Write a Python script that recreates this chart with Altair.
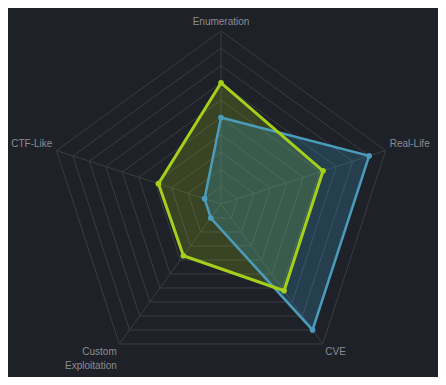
import altair as alt
import pandas as pd

# ---- data ----
axes = ["Enumeration", "Real-Life", "CVE", "Custom Exploitation", "CTF-Like"]
series_names = ["Green", "Blue"]
series_green = [70, 62, 62, 37, 38]
series_blue = [50, 90, 90, 10, 10]
grid_levels = [10, 20, 30, 40, 50, 60, 70, 80, 90, 100]
max_value = 100

BG = "#1f2128"
GRID = "#393c43"
LABEL = "#8a8d92"
GREEN = "#a4cf1b"
GREEN_FILL = "#a6d019"
BLUE = "#4a9cba"
BLUE_FILL = "#3dadd7"

# ---- tables ----
rows = []
for name, vals in zip(series_names, [series_green, series_blue]):
    for i, (a, v) in enumerate(zip(axes, vals)):
        rows.append({"series": name, "axis": a, "idx": i, "value": v})
series_df = pd.DataFrame(rows)

grid_df = pd.DataFrame(
    [{"level": lv, "idx": i} for lv in grid_levels for i in range(len(axes))]
)
axis_df = pd.DataFrame({"axis": axes, "idx": list(range(len(axes)))})

n = len(axes)
ang = f"datum.idx * 2 * PI / {n}"

xs = alt.Scale(domain=[-123.1, 125.4], nice=False, zero=False)
ys = alt.Scale(domain=[-100.0, 113.3], nice=False, zero=False)


def xy(chart, r):
    return chart.transform_calculate(
        ang=ang
    ).transform_calculate(
        x=f"{r} * sin(datum.ang)", y=f"{r} * cos(datum.ang)"
    )


X = alt.X("x:Q", scale=xs, axis=None)
Y = alt.Y("y:Q", scale=ys, axis=None)

grid = xy(alt.Chart(grid_df), "datum.level").mark_line(
    interpolate="linear-closed", stroke=GRID, strokeWidth=1
).encode(x=X, y=Y, detail="level:N", order="idx:Q")

spokes = xy(alt.Chart(axis_df), max_value).mark_rule(
    stroke=GRID, strokeWidth=1
).encode(
    x=alt.X("cx:Q", scale=xs, axis=None),
    y=alt.Y("cy:Q", scale=ys, axis=None),
    x2="x:Q",
    y2="y:Q",
).transform_calculate(cx="0", cy="0")


def poly(name, color, fill_color, width, fill_op):
    base = xy(alt.Chart(series_df), "datum.value").transform_filter(
        f"datum.series == '{name}'"
    )
    fill = base.mark_line(
        interpolate="linear-closed", fill=fill_color, fillOpacity=fill_op,
        strokeOpacity=0, stroke=color
    ).encode(x=X, y=Y, order="idx:Q")
    line = base.mark_line(
        interpolate="linear-closed", stroke=color, strokeWidth=width
    ).encode(x=X, y=Y, order="idx:Q")
    pts = base.mark_circle(size=32, color=color, opacity=1).encode(x=X, y=Y)
    return fill, line, pts


gf, gl, gp = poly("Green", GREEN, GREEN_FILL, 3, 0.2)
bf, bl, bp = poly("Blue", BLUE, BLUE_FILL, 2.5, 0.22)

label_base = xy(alt.Chart(axis_df), 102.5).transform_calculate(
    s="sin(datum.ang)", c="cos(datum.ang)"
)
label_layers = []
for cond, align, baseline in [
    ("abs(datum.s) < 0.1", "center", "bottom"),
    ("datum.s >= 0.1 && datum.c > 0", "left", "bottom"),
    ("datum.s >= 0.1 && datum.c <= 0", "left", "top"),
    ("datum.s <= -0.1 && datum.c <= 0", "right", "top"),
    ("datum.s <= -0.1 && datum.c > 0", "right", "bottom"),
]:
    label_layers.append(
        label_base.transform_filter(cond).mark_text(
            align=align, baseline=baseline, font="Liberation Sans",
            fontSize=10, color=LABEL, lineBreak=" ", lineHeight=14
        ).encode(x=X, y=Y, text="axis:N")
    )

chart = alt.layer(
    grid, spokes, gf, bf, bl, gl, bp, gp, *label_layers
).properties(
    width=430, height=369, padding=0, background=BG,
    autosize=alt.AutoSizeParams(type="none")
).configure_view(strokeWidth=0)

chart.save("out.html", embed_options={"renderer": "svg", "actions": False})
